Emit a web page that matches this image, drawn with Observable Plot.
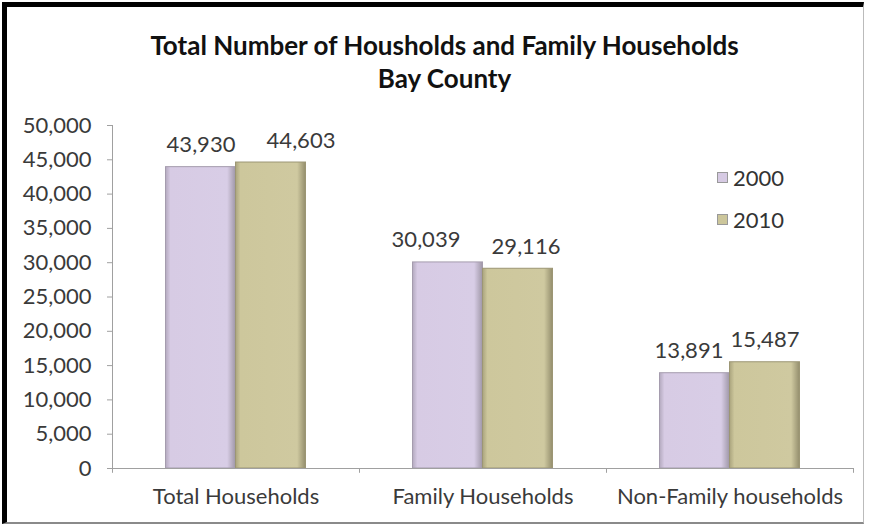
<!DOCTYPE html>
<html>
<head>
<meta charset="utf-8">
<script src="https://cdn.jsdelivr.net/npm/d3@7"></script>
<script src="https://cdn.jsdelivr.net/npm/@observablehq/plot@0.6"></script>
<style>
  html, body { margin: 0; padding: 0; background: #fff; }
  #wrap { position: relative; width: 869px; height: 529px; overflow: hidden; font-family: Lato, "Open Sans", sans-serif; }
  #frame { position: absolute; left: 2px; top: 2px; width: 862px; height: 522px; box-sizing: border-box;
           border-top: 5px solid #000; border-left: 5px solid #000; border-bottom: 2px solid #8a8a8a; border-right: 1px solid #bbb; pointer-events: none; }
  #title { position: absolute; left: 0; width: 889px; top: 29px; text-align: center; font-weight: bold; font-size: 26px; line-height: 33px; color: #111; }
  #legend { position: absolute; left: 717px; top: 162px; font-size: 22px; color: #333; }
  .item { display: flex; align-items: center; height: 30px; margin-bottom: 12px; }
  .sw { width: 11px; height: 11px; margin-right: 5px; border: 1px solid #999; box-sizing: border-box; }
  svg { position: absolute; left: 0; top: 0; }
</style>
</head>
<body>
<div id="wrap">
  <div id="title">Total Number of Housholds and Family Households<br>Bay County</div>
  <div id="legend"></div>
  <div id="frame"></div>
</div>
<script>
const categories = ["Total Households", "Family Households", "Non-Family households"];
const years = ["2000", "2010"];
const values2000 = [43930, 30039, 13891];
const values2010 = [44603, 29116, 15487];
const yTicks = [0, 5000, 10000, 15000, 20000, 25000, 30000, 35000, 40000, 45000, 50000];
const colors = {"2000": "#d6cae3", "2010": "#ccc69b"};
// label nudges (px) as placed in the original, per year
const labelNudge2000 = [0, -22, -6];
const labelNudge2010 = [30, 8, 0];

const data = [];
categories.forEach((c, i) => {
  data.push({category: c, year: "2000", value: values2000[i], nudge: labelNudge2000[i]});
  data.push({category: c, year: "2010", value: values2010[i], nudge: labelNudge2010[i]});
});

const W = 869, H = 529, mL = 112, mR = 16, mT = 125, mB = 61;
const band = (W - mL - mR) / categories.length;
const barW = 70;
const inset = (band - barW) / 2;
const fmt = d3.format(",");
const textColor = "#3a3a3a";

const marks = [];
years.forEach((yr, k) => {
  const dx = k === 0 ? -barW / 2 : barW / 2;
  const sub = data.filter(d => d.year === yr);
  marks.push(Plot.barY(sub, {x: "category", y: "value", dx, insetLeft: inset, insetRight: inset,
    fill: `url(#grad${yr})`, stroke: yr === "2000" ? "#a59cae" : "#9c9674", strokeWidth: 1}));
  sub.forEach(d => {
    marks.push(Plot.text([d], {x: "category", y: "value", dx: dx + d.nudge, dy: -22, text: v => fmt(v.value),
      fontSize: 22, fill: textColor}));
  });
});
// separators and y axis line
marks.push(Plot.ruleX([categories[0]], {x: d => d, dx: -band / 2, y1: -700, y2: 50000, stroke: "#a0a0a0"}));
marks.push(Plot.ruleX(categories.slice(1), {x: d => d, dx: -band / 2, y1: -700, y2: 0, stroke: "#a0a0a0"}));
marks.push(Plot.ruleX([categories[categories.length - 1]], {x: d => d, dx: band / 2, y1: -700, y2: 0, stroke: "#a0a0a0"}));
marks.push(Plot.ruleY([0], {stroke: "#a0a0a0"}));
marks.push(Plot.axisY({ticks: yTicks, tickFormat: fmt, tickSize: 5, tickPadding: 16, fontSize: 22, stroke: "#a0a0a0", color: textColor, label: null}));
marks.push(Plot.axisX({tickSize: 0, tickPadding: 20, fontSize: 22, color: textColor, label: null}));

const chart = Plot.plot({
  width: W, height: H,
  marginLeft: mL, marginRight: mR, marginTop: mT, marginBottom: mB,
  style: {fontFamily: "Lato, 'Open Sans', sans-serif", background: "transparent", overflow: "visible"},
  x: {domain: categories, padding: 0},
  y: {domain: [0, 50000]},
  marks
});

// gradients
const ns = "http://www.w3.org/2000/svg";
const defs = document.createElementNS(ns, "defs");
const stops = {
  "2000": [["0%", "#b3a9be"], ["7%", "#d7cbe4"], ["88%", "#d8cde6"], ["100%", "#9f97a7"]],
  "2010": [["0%", "#aaa47d"], ["7%", "#cdc79c"], ["88%", "#cfc9a0"], ["100%", "#948e6d"]]
};
years.forEach(yr => {
  const g = document.createElementNS(ns, "linearGradient");
  g.setAttribute("id", "grad" + yr);
  g.setAttribute("x1", "0"); g.setAttribute("x2", "1"); g.setAttribute("y1", "0"); g.setAttribute("y2", "0");
  stops[yr].forEach(([o, c]) => {
    const s = document.createElementNS(ns, "stop");
    s.setAttribute("offset", o); s.setAttribute("stop-color", c);
    g.appendChild(s);
  });
  defs.appendChild(g);
});
chart.insertBefore(defs, chart.firstChild);

const wrap = document.getElementById("wrap");
wrap.insertBefore(chart, wrap.firstChild);

const legend = document.getElementById("legend");
years.forEach(yr => {
  const it = document.createElement("div");
  it.className = "item";
  it.innerHTML = `<span class="sw" style="background:${colors[yr]}"></span><span>${yr}</span>`;
  legend.appendChild(it);
});
</script>
</body>
</html>
